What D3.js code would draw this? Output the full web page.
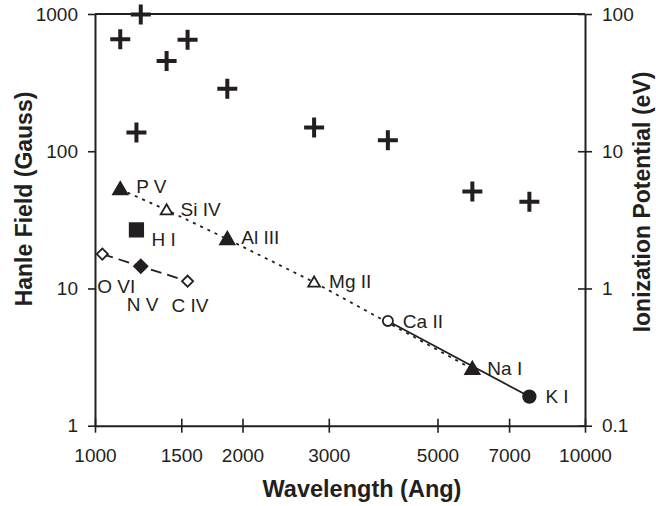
<!DOCTYPE html>
<html>
<head>
<meta charset="utf-8">
<script src="https://cdn.jsdelivr.net/npm/d3@7"></script>
<style>
  body { margin: 0; background: #fff; }
  text { font-family: "Liberation Sans", Arial, sans-serif; fill: #231f20; }
</style>
</head>
<body>
<svg id="chart"></svg>
<script>
// ions, their wavelengths (Ang), Hanle field (Gauss) and ionization potential (eV)
const ions = ['O VI', 'P V', 'H I', 'N V', 'Si IV', 'C IV', 'Al III', 'Mg II', 'Ca II', 'Na I', 'K I'];
const wavelength = [1035, 1126, 1215, 1240, 1400, 1545, 1862, 2800, 3960, 5890, 7700];
const hanleField = [17.8, 52.8, 26.7, 14.5, 37.3, 11.3, 22.9, 11.1, 5.8, 2.59, 1.63];
const ionPotential = [null, 65.5, 13.7, 99, 45.5, 64.8, 28.5, 14.9, 12.0, 5.08, 4.29];

// isoelectronic sequences joined by lines
const liSequence = ['O VI', 'N V', 'C IV'];
const naSequence = ['P V', 'Si IV', 'Al III', 'Mg II', 'Na I'];
const kSequence = ['Ca II', 'K I'];

const xTicks = [1000, 1500, 2000, 3000, 5000, 7000, 10000];
const yTicks = [1, 10, 100, 1000];
const ipTicks = [0.1, 1, 10, 100];

const ink = '#231f20';

// marker look and label offset for each ion
const style = {
  'O VI':   { shape: 'diamond',  filled: false, size: 62,  dx: -5,  dy: 39 },
  'P V':    { shape: 'triangle', filled: true,  size: 90,  dx: 16,  dy: 4 },
  'H I':    { shape: 'square',   filled: true,  size: 180, dx: 15,  dy: 16 },
  'N V':    { shape: 'diamond',  filled: true,  size: 90,  dx: -14, dy: 45 },
  'Si IV':  { shape: 'triangle', filled: false, size: 60,  dx: 14,  dy: 6 },
  'C IV':   { shape: 'diamond',  filled: false, size: 62,  dx: -16, dy: 31 },
  'Al III': { shape: 'triangle', filled: true,  size: 90,  dx: 14,  dy: 5 },
  'Mg II':  { shape: 'triangle', filled: false, size: 60,  dx: 15,  dy: 6 },
  'Ca II':  { shape: 'circle',   filled: false, size: 80,  dx: 15,  dy: 7 },
  'Na I':   { shape: 'triangle', filled: true,  size: 90,  dx: 15,  dy: 6 },
  'K I':    { shape: 'circle',   filled: true,  size: 124, dx: 16,  dy: 6 }
};

const width = 656, height = 506;
const margin = { left: 95, right: 585, top: 14, bottom: 425.7 };

const data = ions.map((name, i) => ({
  name, wl: wavelength[i], hanle: hanleField[i], ip: ionPotential[i]
}));
const byName = new Map(data.map(d => [d.name, d]));

const x = d3.scaleLog().domain([1000, 10000]).range([margin.left, margin.right]);
const y = d3.scaleLog().domain([1, 1000]).range([margin.bottom, margin.top]);
const yIp = d3.scaleLog().domain([0.1, 100]).range([margin.bottom, margin.top]);

const svg = d3.select('#chart')
  .attr('width', width)
  .attr('height', height);

// frame top edge
svg.append('line')
  .attr('x1', margin.left).attr('x2', margin.right)
  .attr('y1', margin.top).attr('y2', margin.top)
  .attr('stroke', ink).attr('stroke-width', 2);

// left axis
const gl = svg.append('g')
  .attr('transform', `translate(${margin.left},0)`)
  .call(d3.axisLeft(y).tickValues(yTicks).tickFormat(d => d)
    .tickSizeInner(7).tickSizeOuter(0).tickPadding(10));

// right axis (ionization potential)
const gr = svg.append('g')
  .attr('transform', `translate(${margin.right},0)`)
  .call(d3.axisRight(yIp).tickValues(ipTicks).tickFormat(d => d)
    .tickSizeInner(7).tickSizeOuter(0).tickPadding(10));
gr.selectAll('.tick line').attr('x1', -7);

// bottom axis
const gb = svg.append('g')
  .attr('transform', `translate(0,${margin.bottom})`)
  .call(d3.axisBottom(x).tickValues(xTicks).tickFormat(d => d)
    .tickSizeInner(7).tickSizeOuter(0).tickPadding(16));
gb.selectAll('.tick line').attr('y1', -7);

[gl, gr, gb].forEach(g => {
  g.select('.domain').attr('stroke', ink).attr('stroke-width', 2);
  g.selectAll('.tick line').attr('stroke', ink).attr('stroke-width', 1.6);
  g.selectAll('.tick text')
    .style('font-family', '"Liberation Sans", Arial, sans-serif')
    .style('font-size', '19px')
    .attr('fill', ink);
});

// axis titles
svg.append('text')
  .attr('transform', `translate(32,199) rotate(-90)`)
  .attr('text-anchor', 'middle')
  .style('font-size', '23px').style('font-weight', 'bold')
  .text('Hanle Field (Gauss)');

svg.append('text')
  .attr('transform', `translate(650,202) rotate(-90)`)
  .attr('text-anchor', 'middle')
  .style('font-size', '23px').style('font-weight', 'bold')
  .text('Ionization Potential (eV)');

svg.append('text')
  .attr('x', 362).attr('y', 497)
  .attr('text-anchor', 'middle')
  .style('font-size', '23.5px').style('font-weight', 'bold')
  .text('Wavelength (Ang)');

// sequence lines
const line = d3.line().x(d => x(d.wl)).y(d => y(d.hanle));
const seqs = [
  { names: liSequence, dash: '11,6' },
  { names: naSequence, dash: '3,5' },
  { names: kSequence, dash: null }
];
svg.append('g')
  .selectAll('path')
  .data(seqs)
  .join('path')
  .attr('d', s => line(s.names.map(n => byName.get(n))))
  .attr('fill', 'none')
  .attr('stroke', ink)
  .attr('stroke-width', 1.8)
  .attr('stroke-dasharray', s => s.dash);

// ionization potential crosses
svg.append('g')
  .selectAll('path')
  .data(data.filter(d => d.ip != null))
  .join('path')
  .attr('transform', d => `translate(${x(d.wl)},${yIp(d.ip)})`)
  .attr('d', 'M-10,0H10M0,-10V10')
  .attr('stroke', ink)
  .attr('stroke-width', 4);

// Hanle field markers
const symbols = {
  triangle: d3.symbolTriangle,
  square: d3.symbolSquare,
  diamond: d3.symbolSquare,
  circle: d3.symbolCircle
};
svg.append('g')
  .selectAll('path')
  .data(data)
  .join('path')
  .attr('transform', d => {
    const s = style[d.name];
    const rot = s.shape === 'diamond' ? ' rotate(45)' : '';
    const shift = s.shape === 'triangle' ? ' translate(0,1)' : '';
    return `translate(${x(d.wl)},${y(d.hanle)})${rot}${shift}`;
  })
  .attr('d', d => d3.symbol(symbols[style[d.name].shape], style[d.name].size)())
  .attr('fill', d => style[d.name].filled ? ink : '#fff')
  .attr('stroke', ink)
  .attr('stroke-width', 1.8);

// ion labels
svg.append('g')
  .selectAll('text')
  .data(data)
  .join('text')
  .attr('x', d => x(d.wl) + style[d.name].dx)
  .attr('y', d => y(d.hanle) + style[d.name].dy)
  .style('font-size', '19px')
  .text(d => d.name);
</script>
</body>
</html>
